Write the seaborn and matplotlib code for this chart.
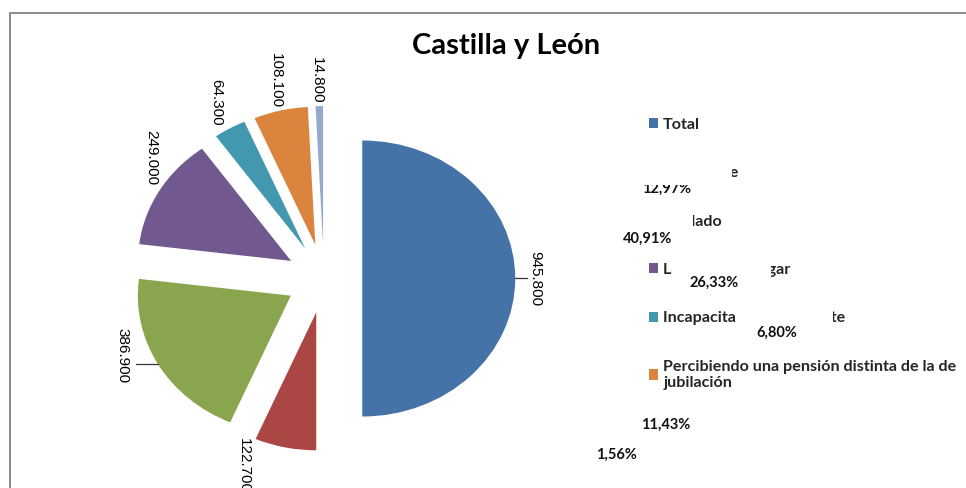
import numpy as np
import matplotlib
matplotlib.use('Agg')
import matplotlib.pyplot as plt
from matplotlib.patches import Rectangle
from matplotlib.lines import Line2D
import seaborn as sns

# data (miles de personas)
categorias = ['Total', 'Estudiante', 'Jubilado', 'Labores del hogar',
              'Incapacitado permanente',
              'Percibiendo una pensión distinta de la de\njubilación',
              'Otra situación']
valores = [945.8, 122.7, 386.9, 249.0, 64.3, 108.1, 14.8]
etiquetas = ['945.800', '122.700', '386.900', '249.000', '64.300', '108.100', '14.800']
colores = ['#4572A7', '#AA4643', '#89A54E', '#71588F', '#4198AF', '#DB843D', '#93A9CF']

sns.set_theme(style='white')
plt.rcParams['font.family'] = ['Lato', 'DejaVu Sans']

W, H = 966, 488
fig = plt.figure(figsize=(W / 100, H / 100), dpi=100)
ax = fig.add_axes([0, 0, 1, 1])

wedges, _ = ax.pie(valores, colors=sns.color_palette(colores), startangle=90,
                   counterclock=False, explode=[0.25] * len(valores), radius=1,
                   wedgeprops=dict(linewidth=0))
ax.set_aspect('auto')
ax.set_xlim(-324 / 153, (W - 324) / 153)
ax.set_ylim(-(H - 278.5) / 138, 278.5 / 138)
ax.axis('off')

# value labels, rotated like the original
dist = [1.13, 1.207, 1.186, 1.18, 1.208, 1.218, 1.19]
tweak = [0, -11.4, -8.2, -8.7, -0.6, -1.0, 0.6]
leader = [0.08, 0, 0.144, 0, 0, 0, 0]
for i, w in enumerate(wedges):
    mid = (w.theta1 + w.theta2) / 2
    a = np.deg2rad(mid + tweak[i])
    cx, cy = w.center
    ax.text(cx + dist[i] * np.cos(a), cy + dist[i] * np.sin(a), etiquetas[i],
            rotation=-90, ha='center', va='center', fontsize=11,
            family='Liberation Sans', color='black')
    if leader[i]:
        m = np.deg2rad(mid)
        ex, ey = cx + np.cos(m), cy + np.sin(m)
        s = np.sign(np.cos(m))
        ax.plot([ex, ex + s * leader[i]], [ey, ey], color='#333333', lw=0.9)

fig.text(506 / W, 1 - 46 / H, 'Castilla y León', ha='center', va='center',
         fontsize=21, fontweight='bold', color='black')

fig.legend(handles=wedges, labels=categorias, loc='upper left',
           bbox_to_anchor=(649 / W, 1 - 118 / H), frameon=False,
           prop=dict(weight='bold', size=11.6), handlelength=0.58, handleheight=0.58,
           handletextpad=0.3, labelspacing=2.13, borderpad=0, borderaxespad=0)

# white data-label boxes that sit on top of the legend in the original
def tapa(x0, y0, x1, y1, z=10):
    fig.add_artist(Rectangle((x0 / W, 1 - y1 / H), (x1 - x0) / W, (y1 - y0) / H,
                             transform=fig.transFigure, facecolor='white',
                             edgecolor='none', zorder=z))

tapa(640, 158, 732, 185, z=12)
tapa(640, 204, 693, 248)
tapa(672, 258, 771, 293)
tapa(735, 305, 833, 343)
tapa(630, 414, 840, 470)

pct = [v / valores[0] * 100 for v in valores[1:]]
pct_txt = [f'{p:.2f}%'.replace('.', ',') for p in pct]
pct_pos = [(667, 189), (648, 239), (714, 283), (777, 333), (666, 425), (616, 455)]
for t, (px, py) in zip(pct_txt, pct_pos):
    fig.text(px / W, 1 - py / H, t, ha='center', va='center', fontsize=10.5,
             fontweight='bold', color='#111111', zorder=11)

# chart frame
fig.add_artist(Line2D([9.5 / W, 1], [1 - 12.5 / H] * 2, transform=fig.transFigure,
                      color='#8a8a8a', lw=1.4))
fig.add_artist(Line2D([9.5 / W] * 2, [0, 1 - 12.5 / H], transform=fig.transFigure,
                      color='#8a8a8a', lw=1.4))

fig.savefig('out.png', dpi=100, facecolor='white')
